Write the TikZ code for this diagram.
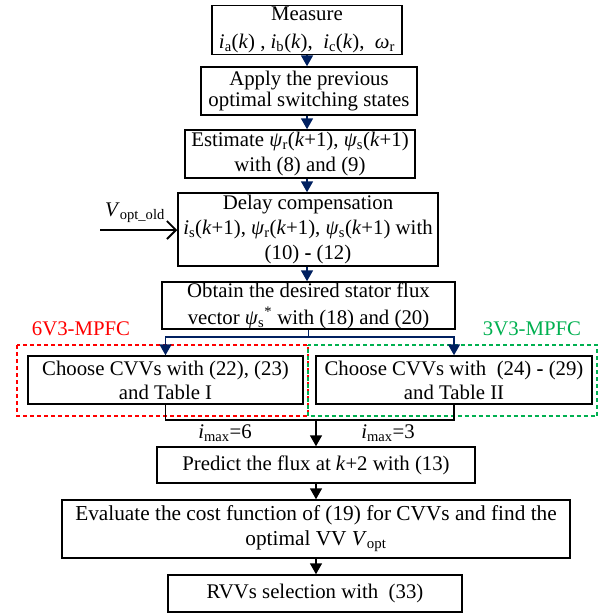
\documentclass[tikz,border=0pt]{standalone}
\usepackage{fontspec}
\setmainfont{Liberation Serif}
\usetikzlibrary{arrows.meta}

\definecolor{flownavy}{RGB}{0,32,96}
\definecolor{mpfcred}{RGB}{255,0,0}
\definecolor{mpfcgreen}{RGB}{0,176,80}

\newcommand{\lo}[1]{\textsubscript{#1}}
\newcommand{\iv}[1]{\textit{#1}}

\begin{document}
\begin{tikzpicture}[x=1pt,y=-1pt,
	stepbox/.style={draw,line width=1.5pt,fill=white,align=center,inner sep=0pt,
		font=\fontsize{20.8}{24}\selectfont},
	navyflow/.style={line width=1.8pt,flownavy,-{Triangle[length=11pt,width=12pt]}},
	blackflow/.style={line width=1.6pt,black,-{Triangle[length=11pt,width=12pt]}},
	frame/.style={line width=2.2pt,dash pattern=on 4pt off 3pt},
	tag/.style={font=\fontsize{20.8}{24}\selectfont}]
	\useasboundingbox (0,0) rectangle (605,614);
	
	% the two variants
	\draw[frame,mpfcred] (17,345) rectangle (308,416);
	\draw[frame,mpfcgreen,dash phase=3.5pt] (308,345) rectangle (597,416);
	\node[tag,mpfcred] (lab6) at (81,329) {6V3-MPFC};
	\node[tag,mpfcgreen] (lab3) at (532,329) {3V3-MPFC};
	
	\node[stepbox,minimum width=190,minimum height=49,font=\fontsize{20.8}{28}\selectfont] (measure) at (307,30)
		{Measure\\ \iv{i}\lo{a}(\iv{k}) , \iv{i}\lo{b}(\iv{k}),\ \ \iv{i}\lo{c}(\iv{k}),\ \ \iv{ω}\lo{r}};
	\node[stepbox,minimum width=216,minimum height=48,font=\fontsize{20.8}{21}\selectfont] (apply) at (309,91)
		{Apply the previous\\ optimal switching states};
	\node[stepbox,minimum width=230,minimum height=48,font=\fontsize{20.8}{25}\selectfont] (estimate) at (300,154)
		{Estimate \iv{ψ}\lo{r}(\iv{k}+1), \iv{ψ}\lo{s}(\iv{k}+1)\\ with (8) and (9)};
	\node[stepbox,minimum width=260,minimum height=73,font=\fontsize{20.8}{25}\selectfont] (delay) at (308,229.5)
		{Delay compensation\\ \iv{i}\lo{s}(\iv{k}+1), \iv{ψ}\lo{r}(\iv{k}+1), \iv{ψ}\lo{s}(\iv{k}+1) with\\ (10) \textbf{-} (12)};
	\node[stepbox,minimum width=293,minimum height=47,font=\fontsize{20.8}{27}\selectfont] (obtain) at (308.5,305.5)
		{Obtain the desired stator flux\\ vector \iv{ψ}\lo{s}\textsuperscript{*} with (18) and (20)};
	\node[stepbox,minimum width=275,minimum height=48] (choose6) at (165.5,380)
		{Choose CVVs with (22), (23)\\ and Table I};
	\node[stepbox,minimum width=276,minimum height=48] (choose3) at (454,380)
		{Choose CVVs with\ \ (24) \textbf{-} (29)\\ and Table II};
	\node[stepbox,minimum width=318,minimum height=36] (predict) at (316,465)
		{Predict the flux at \iv{k}+2 with (13)};
	\node[stepbox,minimum width=508,minimum height=58,font=\fontsize{21.3}{25}\selectfont] (evaluate) at (316,529)
		{Evaluate the cost function of (19) for CVVs and find the\\ optimal VV \iv{V}\lo{opt}};
	\node[stepbox,minimum width=294,minimum height=37] (rvvs) at (315,593.5)
		{RVVs selection with\ \ (33)};
	
	% main spine
	\draw[navyflow] (measure.south) -- (apply.north -| measure.south);
	\draw[navyflow] (apply.south -| measure.south) -- (estimate.north -| measure.south);
	\draw[navyflow] (estimate.south -| measure.south) -- (delay.north -| measure.south);
	\draw[navyflow] (delay.south -| measure.south) -- (obtain.north -| measure.south);
	
	% previous optimal vector
	\coordinate (vold) at (100,230);
	\node[tag] (voldlabel) at (135,213) {\iv{V}\lo{opt\_old}};
	\draw[line width=1.6pt,-{Straight Barb[length=9pt,width=18pt,line width=1.8pt]}] (vold) -- (vold -| delay.west);
	
	% split into the two variants
	\draw[navyflow] (obtain.south) -- ++(0,7) -| (choose6.north);
	\draw[navyflow] (obtain.south) -- ++(0,7) -| (choose3.north);
	
	% merge
	\coordinate (merge) at (316,420);
	\draw[line width=1.6pt] (choose6.south) |- (merge) -| (choose3.south);
	\draw[blackflow] (merge) -- (predict.north);
	\node[tag] (imax6) at (225,433) {\iv{i}\lo{max}=6};
	\node[tag] (imax3) at (388,433) {\iv{i}\lo{max}=3};
	
	\draw[blackflow] (predict.south) -- (evaluate.north -| predict.south);
	\draw[blackflow] (evaluate.south -| predict.south) -- (rvvs.north -| predict.south);
\end{tikzpicture}
\end{document}
